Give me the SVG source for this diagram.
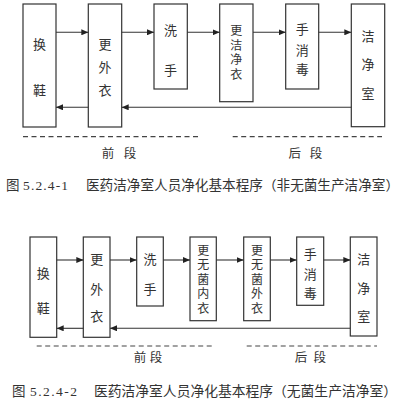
<svg xmlns="http://www.w3.org/2000/svg" width="406" height="400" viewBox="0 0 406 400">
<style>
.box{fill:#fff;stroke:#333;stroke-width:1.2}
.t{font-family:"Noto Sans CJK SC",sans-serif;font-size:13px;fill:#333;text-anchor:middle;dominant-baseline:central}
.v{font-family:"Noto Sans CJK SC",sans-serif;font-size:12px;fill:#333;text-anchor:middle;writing-mode:vertical-rl;letter-spacing:2.5px}
.ln{stroke:#333;stroke-width:1.1;fill:none}
.dash{stroke:#444;stroke-width:1.2;stroke-dasharray:5,3.5;fill:none}
.lbl{font-family:"Noto Sans CJK SC",sans-serif;font-size:12.5px;fill:#333;text-anchor:middle;dominant-baseline:central}
.cap{font-family:"Liberation Serif","Noto Sans CJK SC",serif;font-size:13.5px;fill:#333}
</style>
<defs>
<marker id="ah" markerWidth="7" markerHeight="6" refX="7" refY="3" orient="auto" markerUnits="userSpaceOnUse"><path d="M0,0 L7,3 L0,6 z" fill="#222"/></marker>
</defs>
<rect width="406" height="400" fill="#fff"/>
<!-- top diagram -->
<g id="t-huanxie"><rect class="box" x="23" y="4" width="33" height="123"/><text class="t"><tspan x="39.5" y="43">换</tspan><tspan x="39.5" y="89">鞋</tspan></text></g>
<g id="t-gengwaiyi"><rect class="box" x="88.3" y="4" width="33.4" height="123"/><text class="t"><tspan x="105" y="43">更</tspan><tspan x="105" y="66">外</tspan><tspan x="105" y="89">衣</tspan></text></g>
<g id="t-xishou"><rect class="box" x="154" y="4" width="33.3" height="85"/><text class="t"><tspan x="170.6" y="29">洗</tspan><tspan x="170.6" y="69">手</tspan></text></g>
<g id="t-gengjiejingyi"><rect class="box" x="219.7" y="4" width="33.3" height="97.7"/><text class="v" x="236.3" y="53.6">更洁净衣</text></g>
<g id="t-shouxiaodu"><rect class="box" x="285.7" y="4" width="33" height="85"/><text class="t"><tspan x="302.2" y="28">手</tspan><tspan x="302.2" y="49">消</tspan><tspan x="302.2" y="68">毒</tspan></text></g>
<g id="t-jiejingshi"><rect class="box" x="351.3" y="4" width="33.4" height="122.7"/><text class="t"><tspan x="368" y="35">洁</tspan><tspan x="368" y="63">净</tspan><tspan x="368" y="92">室</tspan></text></g>
<!-- bottom diagram -->
<g id="b-huanxie"><rect class="box" x="30" y="237" width="26.7" height="100.3"/><text class="t"><tspan x="43.3" y="271.7">换</tspan><tspan x="43.3" y="306.7">鞋</tspan></text></g>
<g id="b-gengwaiyi"><rect class="box" x="83.3" y="237" width="26.7" height="100.3"/><text class="t"><tspan x="96.7" y="258">更</tspan><tspan x="96.7" y="288">外</tspan><tspan x="96.7" y="315">衣</tspan></text></g>
<g id="b-xishou"><rect class="box" x="136.7" y="237" width="26.6" height="69"/><text class="t"><tspan x="150" y="258">洗</tspan><tspan x="150" y="288">手</tspan></text></g>
<g id="b-gengwujunneiyi"><rect class="box" x="190" y="237" width="26.3" height="83.7"/><text class="v" x="203.2" y="280.3">更无菌内衣</text></g>
<g id="b-gengwujunwaiyi"><rect class="box" x="243.7" y="237" width="26.6" height="83.7"/><text class="v" x="257" y="280.3">更无菌外衣</text></g>
<g id="b-shouxiaodu"><rect class="box" x="296.7" y="237" width="27" height="68.3"/><text class="t"><tspan x="310.2" y="253">手</tspan><tspan x="310.2" y="273">消</tspan><tspan x="310.2" y="292">毒</tspan></text></g>
<g id="b-jiejingshi"><rect class="box" x="350.3" y="237" width="26.7" height="99"/><text class="t"><tspan x="363.7" y="258">洁</tspan><tspan x="363.7" y="287">净</tspan><tspan x="363.7" y="315">室</tspan></text></g>
<g id="connectors">
<line class="ln" x1="56" y1="32.3" x2="88.3" y2="32.3" marker-end="url(#ah)"/>
<line class="ln" x1="121.7" y1="32.3" x2="154" y2="32.3" marker-end="url(#ah)"/>
<line class="ln" x1="187.3" y1="32.3" x2="219.7" y2="32.3" marker-end="url(#ah)"/>
<line class="ln" x1="253" y1="32.3" x2="285.7" y2="32.3" marker-end="url(#ah)"/>
<line class="ln" x1="318.7" y1="32.3" x2="351.3" y2="32.3" marker-end="url(#ah)"/>
<line class="ln" x1="351.3" y1="107.3" x2="121.7" y2="107.3" marker-end="url(#ah)"/>
<line class="ln" x1="88.3" y1="107.3" x2="56" y2="107.3" marker-end="url(#ah)"/>
<line class="ln" x1="56.7" y1="260" x2="83.3" y2="260" marker-end="url(#ah)"/>
<line class="ln" x1="110" y1="260" x2="136.7" y2="260" marker-end="url(#ah)"/>
<line class="ln" x1="163.3" y1="260" x2="190" y2="260" marker-end="url(#ah)"/>
<line class="ln" x1="216.3" y1="260" x2="243.7" y2="260" marker-end="url(#ah)"/>
<line class="ln" x1="270.3" y1="260" x2="296.7" y2="260" marker-end="url(#ah)"/>
<line class="ln" x1="323.7" y1="260" x2="350.3" y2="260" marker-end="url(#ah)"/>
<line class="ln" x1="350.3" y1="328.3" x2="110" y2="328.3" marker-end="url(#ah)"/>
<line class="ln" x1="83.3" y1="328.3" x2="56.7" y2="328.3" marker-end="url(#ah)"/>
</g>
<g id="stages">
<line class="dash" x1="23" y1="136.7" x2="201" y2="136.7"/>
<line class="dash" x1="232.7" y1="136.7" x2="382" y2="136.7"/>
<text class="lbl" x="108" y="152">前</text><text class="lbl" x="130" y="152">段</text>
<text class="lbl" x="294.7" y="152">后</text><text class="lbl" x="316" y="152">段</text>
<line class="dash" x1="36.7" y1="346" x2="214" y2="346"/>
<line class="dash" x1="246.7" y1="346" x2="377" y2="346"/>
<text class="lbl" x="140" y="356.7">前</text><text class="lbl" x="156" y="356.7">段</text>
<text class="lbl" x="301" y="356.7">后</text><text class="lbl" x="319.7" y="356.7">段</text>
</g>
<g id="captions">
<text class="cap" x="6" y="190">图</text>
<text class="cap" x="23" y="190" textLength="45" lengthAdjust="spacing">5.2.4-1</text>
<text class="cap" x="86" y="190" textLength="313" lengthAdjust="spacingAndGlyphs">医药洁净室人员净化基本程序（非无菌生产洁净室）</text>
<text class="cap" x="12" y="396">图</text>
<text class="cap" x="30" y="396" textLength="47" lengthAdjust="spacing">5.2.4-2</text>
<text class="cap" x="94" y="396" textLength="303" lengthAdjust="spacingAndGlyphs">医药洁净室人员净化基本程序（无菌生产洁净室）</text>
</g>
</svg>
